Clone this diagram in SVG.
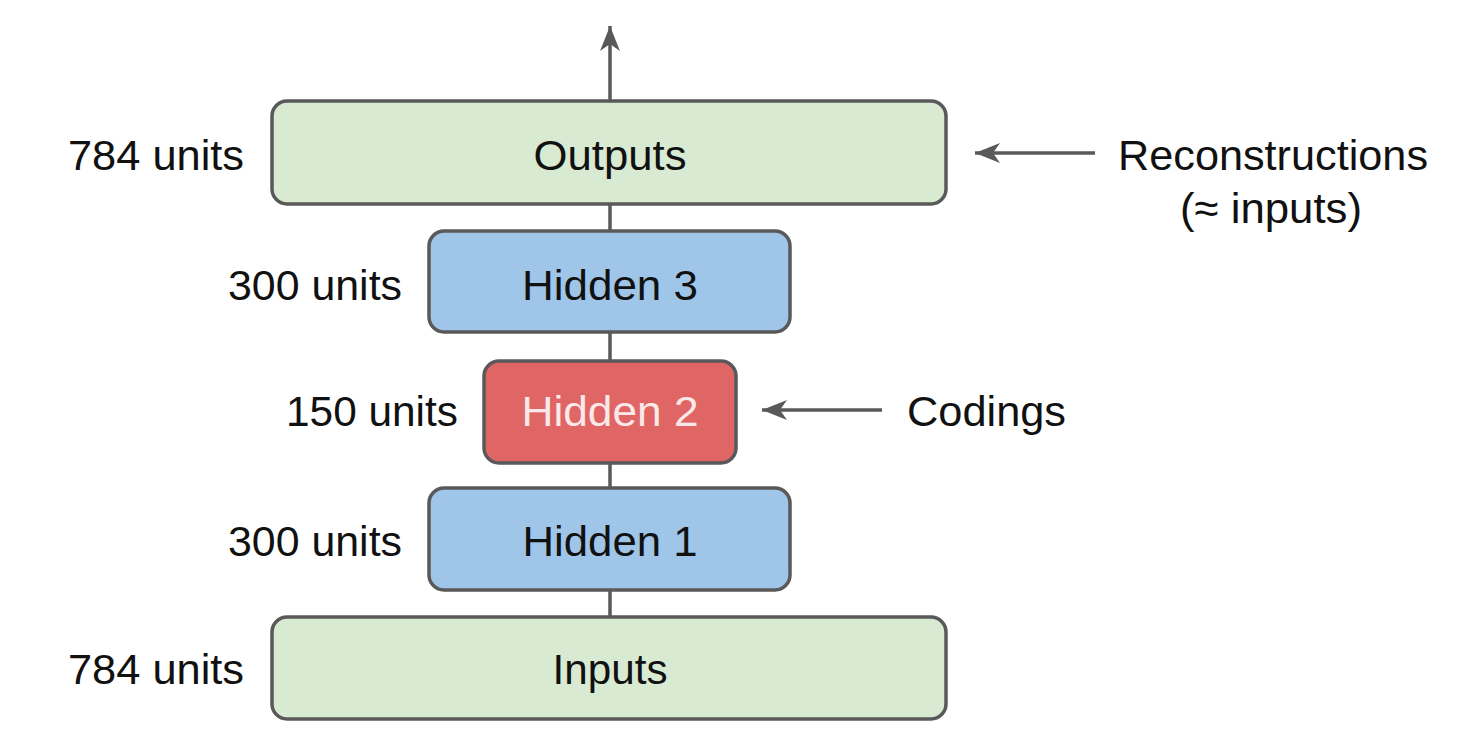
<svg xmlns="http://www.w3.org/2000/svg" width="1474" height="740" viewBox="0 0 1474 740">
<style>
.box{stroke:#595959;stroke-width:3.5}
.green{fill:#d9ead3}
.blue{fill:#9fc5e8}
.red{fill:#e06666}
.t{font-family:"Liberation Sans",Arial,sans-serif;font-size:43px;fill:#111111}
.c{text-anchor:middle}
.r{text-anchor:end}
.w{fill:#fbe9e9}
.ln{stroke:#595959;stroke-width:3.5;fill:none}
</style>
<defs>
<marker id="ah" markerUnits="userSpaceOnUse" markerWidth="32" markerHeight="26" viewBox="-26 -13 32 26" refX="0" refY="0" orient="auto">
<path d="M0,0 L-25,-10 L-18,0 L-25,10 Z" fill="#595959"/>
</marker>
</defs>
<rect width="1474" height="740" fill="#ffffff"/>
<g id="connectors">
<line class="ln" x1="610" y1="101" x2="610" y2="26" marker-end="url(#ah)"/>
<line class="ln" x1="610" y1="204" x2="610" y2="231"/>
<line class="ln" x1="610" y1="332" x2="610" y2="361"/>
<line class="ln" x1="610" y1="463" x2="610" y2="488"/>
<line class="ln" x1="610" y1="590" x2="610" y2="617"/>
<line class="ln" x1="1095" y1="153" x2="975" y2="153" marker-end="url(#ah)"/>
<line class="ln" x1="882" y1="410" x2="762" y2="410" marker-end="url(#ah)"/>
</g>
<g id="outputs">
<rect class="box green" x="272" y="101" width="674" height="103" rx="15"/>
<text class="t c" x="610" y="170" textLength="153" lengthAdjust="spacingAndGlyphs">Outputs</text>
<text class="t r" x="244" y="170" textLength="176" lengthAdjust="spacingAndGlyphs">784 units</text>
</g>
<g id="hidden3">
<rect class="box blue" x="429" y="231" width="361" height="101" rx="15"/>
<text class="t c" x="610" y="300" textLength="176" lengthAdjust="spacingAndGlyphs">Hidden 3</text>
<text class="t r" x="402" y="300" textLength="174" lengthAdjust="spacingAndGlyphs">300 units</text>
</g>
<g id="hidden2">
<rect class="box red" x="484" y="361" width="252" height="102" rx="15"/>
<text class="t c w" x="610" y="426" textLength="177" lengthAdjust="spacingAndGlyphs">Hidden 2</text>
<text class="t r" x="458" y="426" textLength="172" lengthAdjust="spacingAndGlyphs">150 units</text>
</g>
<g id="hidden1">
<rect class="box blue" x="429" y="488" width="361" height="102" rx="15"/>
<text class="t c" x="610" y="556" textLength="175" lengthAdjust="spacingAndGlyphs">Hidden 1</text>
<text class="t r" x="402" y="556" textLength="174" lengthAdjust="spacingAndGlyphs">300 units</text>
</g>
<g id="inputs">
<rect class="box green" x="272" y="617" width="674" height="102" rx="15"/>
<text class="t c" x="610" y="684" textLength="115" lengthAdjust="spacingAndGlyphs">Inputs</text>
<text class="t r" x="244" y="684" textLength="176" lengthAdjust="spacingAndGlyphs">784 units</text>
</g>
<g id="reconstructions">
<text class="t c" x="1273" y="170" textLength="310" lengthAdjust="spacingAndGlyphs">Reconstructions</text>
<text class="t c" x="1271" y="223" textLength="182" lengthAdjust="spacingAndGlyphs">(≈ inputs)</text>
</g>
<g id="codings">
<text class="t" x="907" y="426" textLength="159" lengthAdjust="spacingAndGlyphs">Codings</text>
</g>
</svg>
